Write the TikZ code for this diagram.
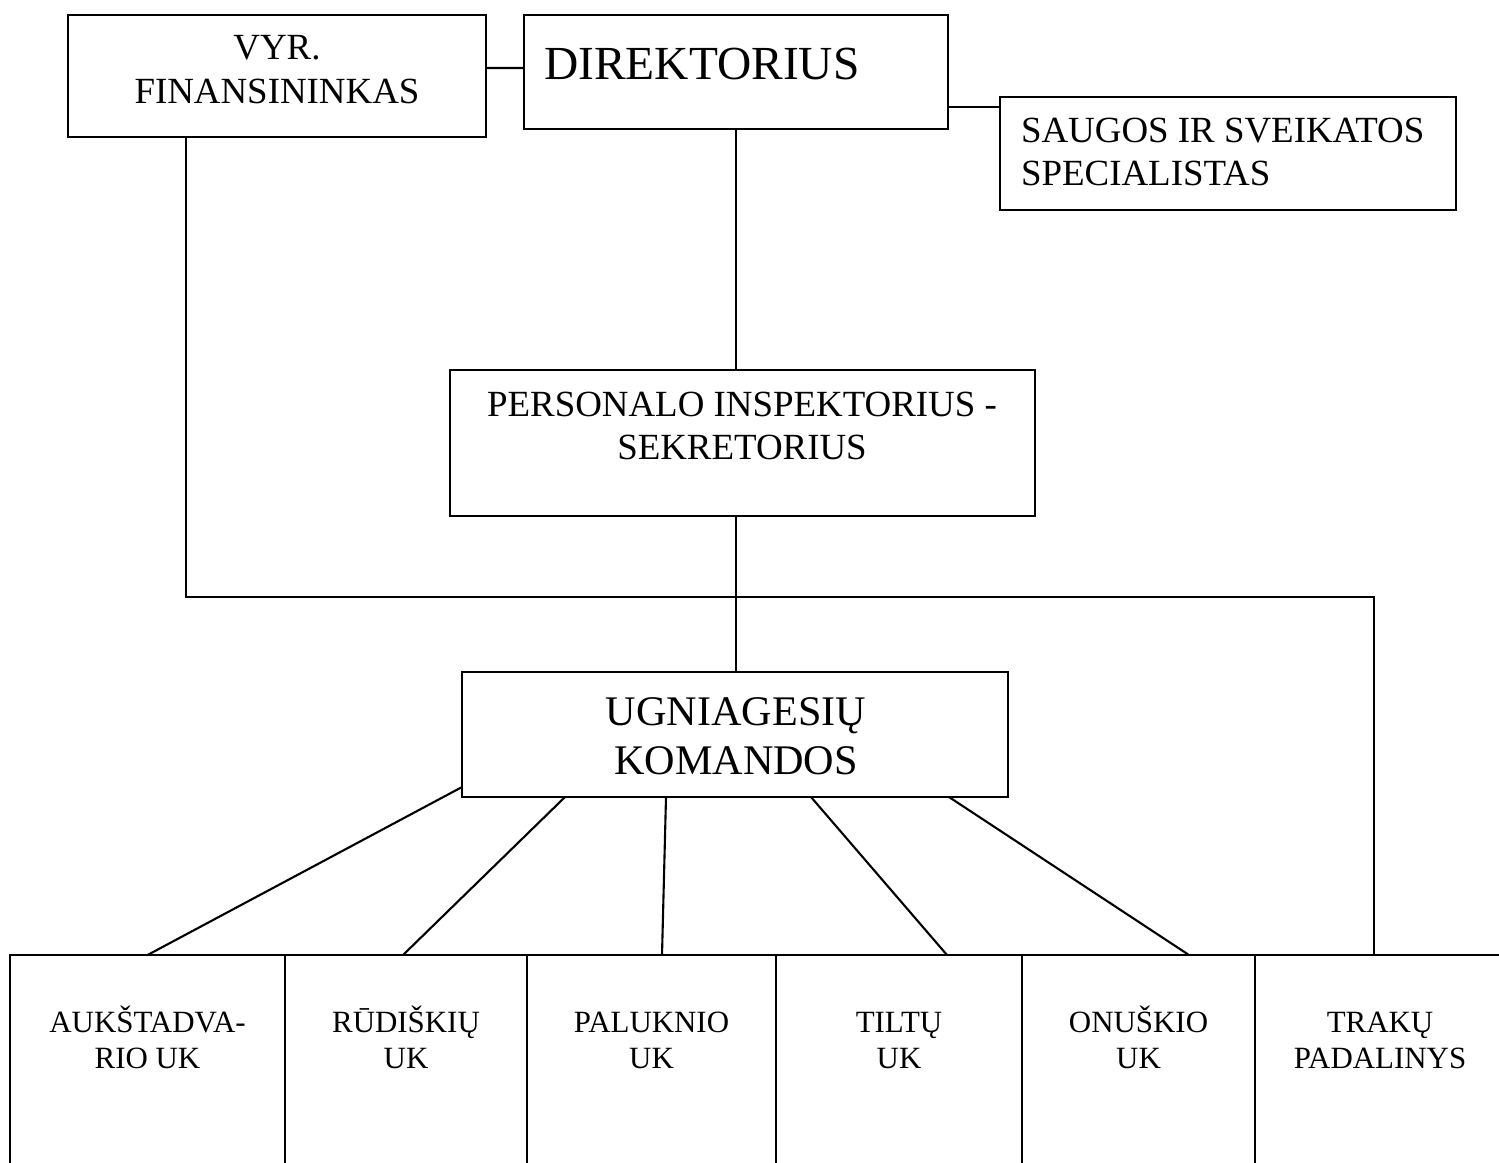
\documentclass[tikz,border=0pt]{standalone}
\usepackage{fontspec}
\setmainfont{Liberation Serif}
\usetikzlibrary{positioning}

\tikzset{
  box/.style={draw,line width=0.6pt,inner sep=0,outer sep=0},
  unit/.style={box,minimum height=3cm,anchor=north},
  txt/.style={inner sep=0,align=center,anchor=base,font=\fontsize{10.5}{12.4}\selectfont},
  sm/.style={txt,font=\fontsize{8.8}{10.2}\selectfont}
}

\begin{document}
\begin{tikzpicture}[line width=0.6pt]
  \useasboundingbox (0,0) rectangle (14.99,-11.62);
  \clip (0,0) rectangle (14.99,-11.62);
  % top row
  \node[box,minimum width=4.18cm,minimum height=1.22cm] (fin)  at (2.77,-0.76) {};
  \node[box,minimum width=4.24cm,minimum height=1.14cm] (dir)  at (7.36,-0.72) {};
  \node[box,minimum width=4.56cm,minimum height=1.13cm] (saug) at (12.28,-1.535) {};
  \node[txt] (fin-t) at (2.77,-1.03) {VYR.\\FINANSININKAS};
  \node[txt,anchor=base west,font=\fontsize{13.5}{16}\selectfont] (dir-t) at (5.43,-0.79) {DIREKTORIUS};
  \node[txt,anchor=base west,align=left,font=\fontsize{10.5}{12.2}\selectfont] (saug-t) at (10.20,-1.85)
    {SAUGOS IR SVEIKATOS\\SPECIALISTAS};
  % middle
  \node[box,minimum width=5.85cm,minimum height=1.46cm] (pers) at (7.425,-4.43) {};
  \node[txt,font=\fontsize{10.5}{12}\selectfont] (pers-t) at (7.42,-4.59) {PERSONALO INSPEKTORIUS -\\SEKRETORIUS};
  \node[box,minimum width=5.46cm,minimum height=1.25cm] (ug) at (7.35,-7.345) {};
  \node[txt,font=\fontsize{12}{13.7}\selectfont] (ug-t) at (7.36,-7.74) {UGNIAGESIŲ\\KOMANDOS};
  % bottom row
  \node[unit,minimum width=2.75cm] (auk) at (1.475,-9.55) {};
  \node[unit,minimum width=2.42cm,right=0cm of auk.north east,anchor=north west] (rud) {};
  \node[unit,minimum width=2.49cm,right=0cm of rud.north east,anchor=north west] (pal) {};
  \node[unit,minimum width=2.46cm,right=0cm of pal.north east,anchor=north west] (til) {};
  \node[unit,minimum width=2.33cm,right=0cm of til.north east,anchor=north west] (onu) {};
  \node[unit,minimum width=2.50cm,right=0cm of onu.north east,anchor=north west] (trak) {};
  \foreach \n/\t in {auk/{AUKŠTADVA-\\RIO UK},rud/{RŪDIŠKIŲ\\UK},pal/{PALUKNIO\\UK},
                     til/{TILTŲ\\UK},onu/{ONUŠKIO\\UK},trak/{TRAKŲ\\PADALINYS}}
    \node[sm] (\n-t) at ([yshift=-1.13cm]\n.north) {\t};
  % connectors
  \coordinate (bus) at (7.37,-5.97);
  \draw ([yshift=0.08cm]fin.east) -- ([yshift=0.04cm]dir.west);
  \draw ([yshift=-0.35cm]dir.east) -- ([yshift=0.465cm]saug.west);
  \draw (dir.south) -- (dir.south |- pers.north);
  \draw (dir.south |- pers.south) -- (dir.south |- ug.north);
  \draw ([xshift=-0.91cm]fin.south) |- (bus) -| ([xshift=-0.06cm]trak.north);
  \draw ([yshift=0.1cm]ug.south west) -- (auk.north);
  \draw ([xshift=1.03cm]ug.south west) -- ([xshift=-0.03cm]rud.north);
  \draw ([xshift=2.04cm]ug.south west) -- ([xshift=0.105cm]pal.north);
  \draw ([xshift=3.49cm]ug.south west) -- ([xshift=0.48cm]til.north);
  \draw ([xshift=4.87cm]ug.south west) -- ([xshift=0.505cm]onu.north);
\end{tikzpicture}
\end{document}
